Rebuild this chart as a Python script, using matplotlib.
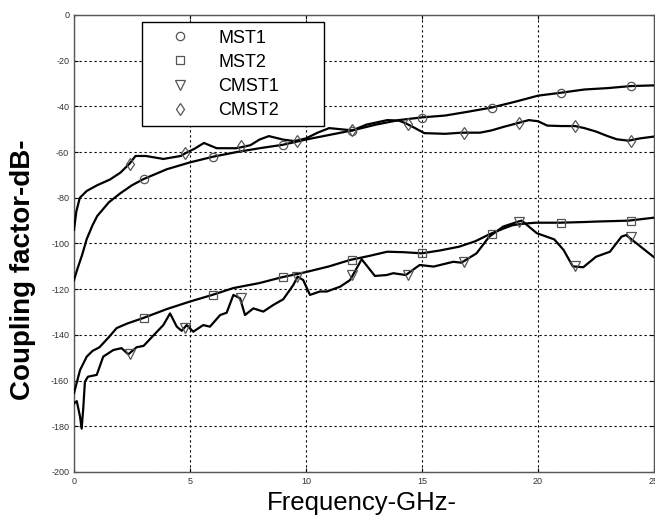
import matplotlib
matplotlib.use("Agg")
import matplotlib.pyplot as plt

# coupling factor vs frequency for the 4 structures

plt.rcParams['font.family'] = ['Liberation Sans', 'DejaVu Sans']
plt.rcParams['axes.unicode_minus'] = False

# line data (GHz, dB)
mst1_f = [0, 0.15, 0.35, 0.55, 0.8, 1.0, 1.5, 2.0, 2.5, 3, 4, 5, 6, 7, 8, 9, 10, 11, 12, 13, 14, 15, 16, 17,
          18, 19, 20, 21, 22, 23, 24, 25]
mst1_db = [-116, -111, -105, -98, -92, -88, -82, -78, -74.5, -71.8, -67.5, -64.5, -62, -60, -58.3, -56.8, -54.5,
           -52.5, -50.5, -48, -46, -44.8, -44, -42.3, -40.5, -38, -35.3, -34, -32.6, -32, -31.1, -30.8]

cmst2_f = [0, 0.1, 0.25, 0.55, 1.0, 1.55, 2.0, 2.4, 2.65, 3.1, 3.85, 4.6, 4.8, 5.2, 5.6, 6.15, 7.0, 7.6, 8.0, 8.4,
           9.0, 9.5, 10.0, 10.5, 11.0, 11.5, 12.0, 12.6, 13.5, 14.0, 14.3, 14.7, 15.1, 16.0, 16.7, 17.5, 18.0,
           18.5, 19.1, 19.6, 20.0, 20.4, 21.0, 21.6, 22.0, 22.5, 23.0, 23.4, 23.9, 24.4, 25]
cmst2_db = [-94, -86, -80, -77, -74.5, -72, -69, -65, -61.7, -61.7, -63, -61.7, -60.5, -58.5, -56, -58.3, -58.3,
            -57, -54.5, -53, -54.5, -55.2, -54, -51.5, -49.5, -50, -50.5, -48, -46, -46.2, -47.4, -49.5, -51.7,
            -52, -51.5, -51.5, -50.5, -49, -47.4, -46, -46.5, -48.4, -48.6, -48.6, -49.5, -51, -53, -54.4, -55,
            -54, -53.2]

mst2_f = [0, 0.26, 0.55, 0.8, 1.1, 1.5, 1.84, 2.3, 2.96, 4, 5, 5.96, 6.87, 8, 8.95, 10, 11, 11.9, 12.7, 13.5,
          14.2, 15, 15.8, 16.6, 17.3, 17.9, 18.5, 18.9, 19.4, 19.9, 20.95, 22, 22.5, 23.9, 25]
mst2_db = [-165.5, -155.4, -149.5, -147, -145.4, -141, -137, -135, -132.7, -128.7, -125.4, -122.5, -119.5, -117.3,
           -114.8, -112.5, -110, -107.2, -105.5, -103.6, -103.8, -104.3, -103, -101.4, -99, -96, -93.5, -92,
           -91.3, -90.9, -90.9, -90.6, -90.4, -90, -88.7]

cmst1_f = [0, 0.12, 0.26, 0.33, 0.4, 0.47, 0.6, 0.98, 1.26, 1.7, 2.05, 2.34, 2.7, 3.0, 3.4, 3.85, 4.14, 4.43,
           4.64, 4.86, 5.14, 5.57, 5.86, 6.3, 6.58, 6.87, 7.16, 7.37, 7.73, 8.16, 8.59, 9.02, 9.45, 9.64, 9.88,
           10.17, 10.6, 10.9, 11.47, 11.9, 12.4, 12.97, 13.48, 13.76, 14.3, 14.9, 15.5, 16.35, 16.7, 17.35, 17.9,
           18.5, 19.15, 19.3, 19.95, 20.7, 21.1, 21.5, 21.95, 22.5, 23.1, 23.6, 23.8, 24.5, 25]
cmst1_db = [-170, -169, -175.8, -181, -172, -160.5, -158.3, -157.5, -149.5, -146.6, -145.8, -148.5, -145.4,
            -144.8, -140.5, -135.7, -130.6, -136.4, -138.2, -135.7, -138.6, -135.7, -136.4, -131.3, -130.3,
            -122.5, -124, -131.3, -128.4, -129.8, -126.9, -124.4, -118.2, -114.5, -116, -122.5, -121, -121,
            -118.9, -116, -106.9, -114.2, -113.8, -113, -113.8, -109.4, -110.1, -108, -108.4, -104.3, -97,
            -92.6, -90.4, -90, -95.5, -98.2, -102.8, -110, -110.4, -105.8, -103.6, -97, -96.3, -102, -106]

# marker points
mst1_mf = [3, 6, 9, 12, 15, 18, 21, 24]
mst1_mdb = [-71.8, -62.1, -56.9, -50.6, -44.9, -40.6, -34, -31.1]
mst2_mf = [3, 6, 9, 12, 15, 18, 21, 24]
mst2_mdb = [-132.7, -122.5, -114.8, -107.2, -104.3, -96, -90.9, -90]
cmst1_mf = [2.4, 4.8, 7.2, 9.6, 12, 14.4, 16.8, 19.2, 21.6, 24]
cmst1_mdb = [-148.5, -137, -124, -114.5, -114, -113.8, -108, -90.4, -110, -97]
cmst2_mf = [2.4, 4.8, 7.2, 9.6, 12, 14.4, 16.8, 19.2, 21.6, 24]
cmst2_mdb = [-65, -60.5, -57.2, -55.2, -50.5, -47.5, -51.5, -47.4, -48.6, -55]

fig = plt.figure(figsize=(6.55, 5.19), dpi=100)
ax = fig.add_axes([74 / 655, 47 / 519, 580 / 655, 457 / 519])

for f, db in [(mst1_f, mst1_db), (mst2_f, mst2_db), (cmst1_f, cmst1_db), (cmst2_f, cmst2_db)]:
    ax.plot(f, db, color='black', linewidth=1.6, zorder=3)

mk = dict(linestyle='none', markerfacecolor='none', markeredgecolor='#555555', markeredgewidth=0.9, zorder=4)
ax.plot(mst1_mf, mst1_mdb, marker='o', markersize=6, label='MST1', **mk)
ax.plot(mst2_mf, mst2_mdb, marker='s', markersize=5.5, label='MST2', **mk)
ax.plot(cmst1_mf, cmst1_mdb, marker='v', markersize=6.5, label='CMST1', **mk)
ax.plot(cmst2_mf, cmst2_mdb, marker='d', markersize=6.5, label='CMST2', **mk)

ax.set_xlim(0, 25)
ax.set_ylim(-200, 0)
ax.set_xticks([0, 5, 10, 15, 20, 25])
ax.set_yticks(range(-200, 1, 20))
ax.grid(True, color='black', linestyle=(0, (2, 2.5)), linewidth=0.8)
ax.tick_params(direction='in', top=True, right=True, labelsize=6.5, labelcolor='#333333', length=3)
for s in ax.spines.values():
    s.set_color('#555555')
    s.set_linewidth(1.0)

ax.set_xlabel('Frequency-GHz-', fontsize=18.5)
ax.xaxis.set_label_coords(0.497, -0.042)
ax.set_ylabel('Coupling factor-dB-', fontsize=20, fontweight='bold')
ax.yaxis.set_label_coords(-0.066, 0.442)

leg = ax.legend(loc='upper left', bbox_to_anchor=(0.117, 0.764, 0.314, 0.22), mode='expand',
                borderaxespad=0, fontsize=13, handlelength=3.4, handletextpad=0.45,
                labelspacing=0.4, borderpad=0.4, fancybox=False, framealpha=1)
leg.get_frame().set_edgecolor('black')
leg.get_frame().set_linewidth(1.0)

plt.savefig('out.png', dpi=100)
